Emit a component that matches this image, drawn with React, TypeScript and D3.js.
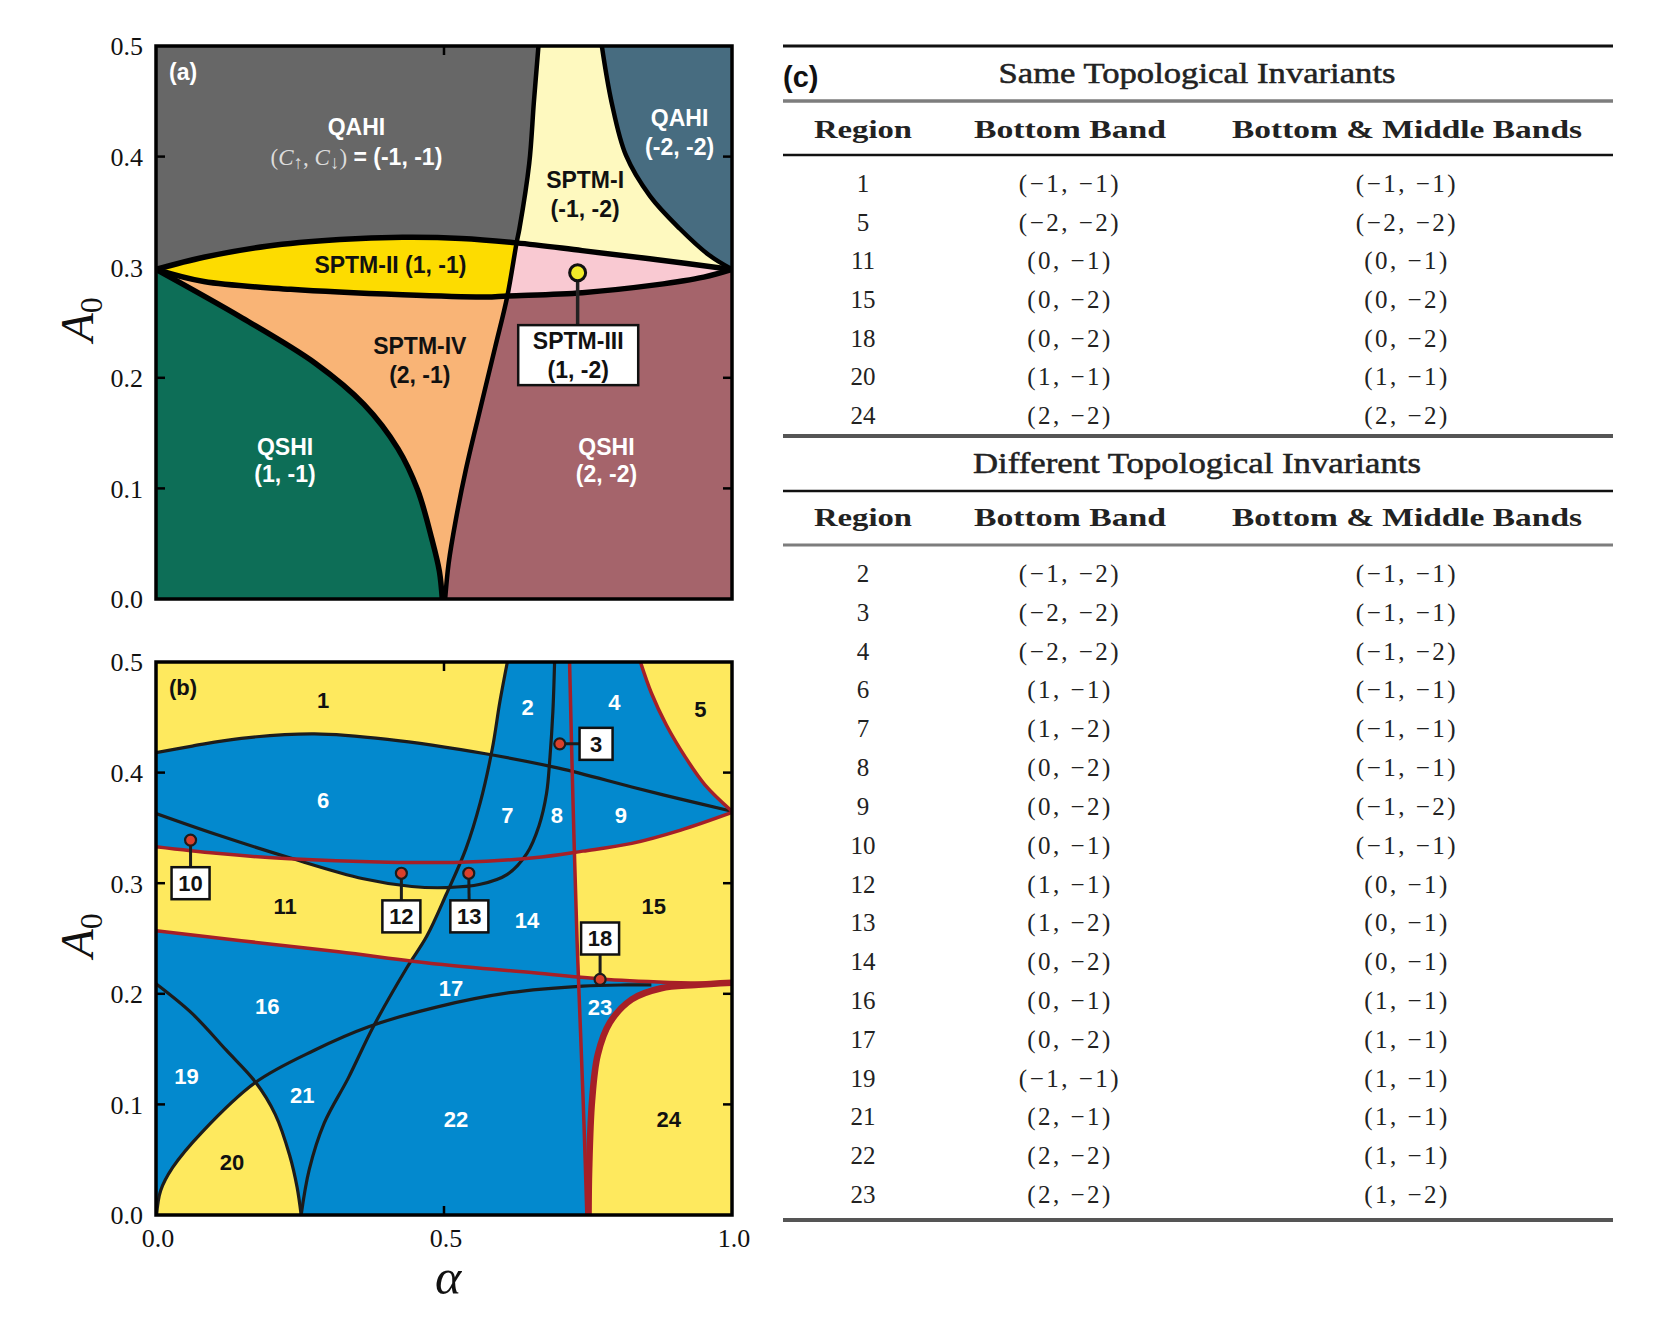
import * as d3 from 'd3';

type Pt = [number, number];

// ---------- panel (a): phase boundaries as [alpha, A0]
const lensUpper: Pt[] = [[0, 0.298], [0.083, 0.309], [0.192, 0.319], [0.319, 0.325], [0.428, 0.327], [0.53, 0.326], [0.626, 0.322], [0.74, 0.315], [0.867, 0.307], [1, 0.298]];
const lensLower: Pt[] = [[0, 0.298], [0.083, 0.287], [0.234, 0.28], [0.428, 0.275], [0.572, 0.273], [0.61, 0.274], [0.74, 0.277], [0.867, 0.284], [0.951, 0.291], [1, 0.298]];
const spineA: Pt[] = [[0.664, 0.5], [0.656, 0.449], [0.648, 0.394], [0.631, 0.335], [0.626, 0.322], [0.61, 0.274], [0.589, 0.228], [0.563, 0.172], [0.538, 0.117], [0.521, 0.073], [0.508, 0.032], [0.502, 0]];
const qshiEdge: Pt[] = [[0, 0.298], [0.15, 0.254], [0.277, 0.213], [0.361, 0.176], [0.42, 0.136], [0.454, 0.099], [0.479, 0.054], [0.492, 0.025], [0.497, 0]];
const qahiEdge: Pt[] = [[0.774, 0.5], [0.791, 0.449], [0.816, 0.401], [0.858, 0.364], [0.909, 0.335], [0.96, 0.311], [1, 0.298]];

// phase labels in (a): [alpha, A0, text, colour]
const labelsA: [number, number, string, string][] = [
  [0.348, 0.427, 'QAHI', '#fff'],
  [0.745, 0.379, 'SPTM-I', '#111'],
  [0.745, 0.353, '(-1, -2)', '#111'],
  [0.909, 0.435, 'QAHI', '#fff'],
  [0.909, 0.409, '(-2, -2)', '#fff'],
  [0.407, 0.302, 'SPTM-II (1, -1)', '#111'],
  [0.458, 0.229, 'SPTM-IV', '#111'],
  [0.458, 0.203, '(2, -1)', '#111'],
  [0.224, 0.138, 'QSHI', '#fff'],
  [0.224, 0.113, '(1, -1)', '#fff'],
  [0.782, 0.138, 'QSHI', '#fff'],
  [0.782, 0.113, '(2, -2)', '#fff'],
];
const chernLabelA: Pt = [0.348, 0.4];
const sptm3Dot: Pt = [0.732, 0.295];
const sptm3Box: Pt = [0.733, 0.2205];
const sptm3Lines: [number, string][] = [[0.2334, 'SPTM-III'], [0.2075, '(1, -2)']];

// ---------- panel (b): boundaries
const upperArc: Pt[] = [[0, 0.418], [0.063, 0.424], [0.148, 0.431], [0.275, 0.435], [0.402, 0.43], [0.572, 0.417], [0.699, 0.404], [0.826, 0.387], [0.911, 0.376], [1, 0.365]];
const uBend: Pt[] = [[0, 0.363], [0.105, 0.344], [0.232, 0.323], [0.36, 0.304], [0.444, 0.297], [0.504, 0.296], [0.563, 0.299], [0.61, 0.308], [0.644, 0.327], [0.665, 0.352], [0.678, 0.381], [0.684, 0.414], [0.689, 0.455], [0.692, 0.5]];
const riseCurve: Pt[] = [[0.252, 0], [0.266, 0.041], [0.292, 0.083], [0.334, 0.124], [0.377, 0.17], [0.436, 0.224], [0.47, 0.252], [0.504, 0.29], [0.538, 0.331], [0.563, 0.373], [0.584, 0.422], [0.597, 0.464], [0.61, 0.5]];
const cuspCurve: Pt[] = [[0, 0.209], [0.063, 0.182], [0.122, 0.149], [0.173, 0.12], [0.207, 0.091], [0.232, 0.054], [0.245, 0.025], [0.252, 0]];
const lowArc: Pt[] = [[0.001, 0], [0.008, 0.022], [0.029, 0.043], [0.08, 0.075], [0.173, 0.12], [0.275, 0.149], [0.368, 0.17], [0.487, 0.188], [0.614, 0.201], [0.741, 0.207], [0.818, 0.208], [0.86, 0.208]];
const redUpper: Pt[] = [[0, 0.333], [0.105, 0.327], [0.232, 0.322], [0.402, 0.319], [0.529, 0.319], [0.656, 0.323], [0.741, 0.329], [0.826, 0.336], [0.911, 0.348], [1, 0.364]];
const redSpine: Pt[] = [[0.718, 0.5], [0.724, 0.373], [0.731, 0.248], [0.737, 0.166], [0.743, 0.083], [0.748, 0]];
const redLower: Pt[] = [[0, 0.257], [0.148, 0.248], [0.317, 0.238], [0.487, 0.227], [0.656, 0.219], [0.784, 0.213], [0.911, 0.21], [1, 0.209]];
const redHook: Pt[] = [[0.751, 0], [0.752, 0.041], [0.757, 0.103], [0.767, 0.145], [0.788, 0.174], [0.826, 0.195], [0.877, 0.205], [0.936, 0.208], [1, 0.21]];
const redCorner: Pt[] = [[0.841, 0.5], [0.86, 0.472], [0.886, 0.443], [0.919, 0.414], [0.953, 0.389], [1, 0.365]];

// region numbers in (b): [alpha, A0, label, on yellow?]
const regionLabels: [number, number, string, boolean][] = [
  [0.29, 0.466, '1', true], [0.645, 0.459, '2', false], [0.796, 0.464, '4', false], [0.945, 0.457, '5', true],
  [0.29, 0.375, '6', false], [0.61, 0.362, '7', false], [0.696, 0.362, '8', false], [0.807, 0.362, '9', false],
  [0.224, 0.279, '11', true], [0.644, 0.267, '14', false], [0.864, 0.279, '15', true],
  [0.193, 0.189, '16', false], [0.512, 0.205, '17', false], [0.053, 0.126, '19', false],
  [0.254, 0.108, '21', false], [0.521, 0.087, '22', false], [0.771, 0.188, '23', false],
  [0.89, 0.087, '24', true], [0.132, 0.048, '20', true],
];
// boxed call-outs: [dot alpha, dot A0, box alpha, box A0, label]
const callouts: [number, number, number, number, string][] = [
  [0.701, 0.426, 0.764, 0.426, '3'],
  [0.06, 0.339, 0.06, 0.3, '10'],
  [0.426, 0.309, 0.426, 0.27, '12'],
  [0.543, 0.309, 0.544, 0.27, '13'],
  [0.771, 0.213, 0.771, 0.25, '18'],
];

// ---------- table (c)
const sameRegions = ['1', '5', '11', '15', '18', '20', '24'];
const sameBottom = ['(−1, −1)', '(−2, −2)', '(0, −1)', '(0, −2)', '(0, −2)', '(1, −1)', '(2, −2)'];
const sameBoth = ['(−1, −1)', '(−2, −2)', '(0, −1)', '(0, −2)', '(0, −2)', '(1, −1)', '(2, −2)'];
const diffRegions = ['2', '3', '4', '6', '7', '8', '9', '10', '12', '13', '14', '16', '17', '19', '21', '22', '23'];
const diffBottom = ['(−1, −2)', '(−2, −2)', '(−2, −2)', '(1, −1)', '(1, −2)', '(0, −2)', '(0, −2)', '(0, −1)', '(1, −1)', '(1, −2)', '(0, −2)', '(0, −1)', '(0, −2)', '(−1, −1)', '(2, −1)', '(2, −2)', '(2, −2)'];
const diffBoth = ['(−1, −1)', '(−1, −1)', '(−1, −2)', '(−1, −1)', '(−1, −1)', '(−1, −1)', '(−1, −2)', '(−1, −1)', '(0, −1)', '(0, −1)', '(0, −1)', '(1, −1)', '(1, −1)', '(1, −1)', '(1, −1)', '(1, −1)', '(1, −2)'];
const headers = ['Region', 'Bottom Band', 'Bottom & Middle Bands'];
const yTicks = [0, 0.1, 0.2, 0.3, 0.4, 0.5];
const xTicks = [0, 0.5, 1];

const W = 1661;
const H = 1338;
const SANS = "'Liberation Sans Narrow', 'Liberation Sans', Arial, sans-serif";
const SERIF = "'Liberation Serif', 'Times New Roman', serif";

const x = d3.scaleLinear().domain([0, 1]).range([156, 732]);
const yA = d3.scaleLinear().domain([0, 0.5]).range([599, 46]);
const yB = d3.scaleLinear().domain([0, 0.5]).range([1215, 662]);

function makePanel(y: d3.ScaleLinear<number, number>) {
  const line = d3.line<Pt>().x(d => x(d[0])).y(d => y(d[1])).curve(d3.curveCatmullRom.alpha(0.5));
  // closed outline built from curve pieces and single corner points
  const shape = (...pieces: Pt[][]) => {
    let d = '';
    for (const p of pieces) {
      if (p.length === 1) d += (d ? 'L' : 'M') + x(p[0][0]) + ',' + y(p[0][1]);
      else {
        const s = line(p)!;
        d += d ? 'L' + s.slice(1) : s;
      }
    }
    return d + 'Z';
  };
  return { y, line, shape };
}

const rev = (a: Pt[]) => [...a].reverse();

function Clip({ ids, children }: { ids: string[]; children: any }) {
  return ids.reduceRight((acc: any, id) => <g clipPath={`url(#${id})`}>{acc}</g>, children);
}

function Axes({ y, showX }: { y: d3.ScaleLinear<number, number>; showX: boolean }) {
  const [x0, x1] = x.range();
  const [y0, y1] = y.range();
  const fmt = d3.format('.1f');
  return (
    <g>
      <rect x={x0} y={y1} width={x1 - x0} height={y0 - y1} fill="none" stroke="#000" strokeWidth={3.5} />
      {yTicks.slice(1, -1).map(t => (
        <g key={t} stroke="#000" strokeWidth={2.5}>
          <line x1={x0} x2={x0 + 9} y1={y(t)} y2={y(t)} />
          <line x1={x1} x2={x1 - 9} y1={y(t)} y2={y(t)} />
        </g>
      ))}
      {xTicks.slice(1, -1).map(t => (
        <g key={t} stroke="#000" strokeWidth={2.5}>
          <line x1={x(t)} x2={x(t)} y1={y0} y2={y0 - 9} />
          <line x1={x(t)} x2={x(t)} y1={y1} y2={y1 + 9} />
        </g>
      ))}
      {yTicks.map(t => (
        <text key={t} x={x0 - 13} y={y(t)} dy="0.36em" textAnchor="end" fontFamily={SERIF} fontSize={26} fill="#111">
          {fmt(t)}
        </text>
      ))}
      {showX && xTicks.map(t => (
        <text key={t} x={x(t) + 2} y={y0 + 32} textAnchor="middle" fontFamily={SERIF} fontSize={26} fill="#111">
          {fmt(t)}
        </text>
      ))}
      <text transform={`translate(93,${(y0 + y1) / 2 - 3}) rotate(-90)`} textAnchor="middle" fontFamily={SERIF} fill="#111">
        <tspan fontSize={47} fontStyle="italic">A</tspan>
        <tspan fontSize={32} dy={9}>0</tspan>
      </text>
    </g>
  );
}

export default function App() {
  const a = makePanel(yA);
  const b = makePanel(yB);
  const [x0, x1] = x.range();

  // clip outlines for (a)
  const clipsA: [string, string][] = [
    ['a-frame', a.shape([[0, 0]], [[1, 0]], [[1, 0.5]], [[0, 0.5]])],
    ['a-leftV', a.shape(spineA, [[0, 0]], [[0, 0.5]])],
    ['a-rightV', a.shape(spineA, [[1, 0]], [[1, 0.5]])],
    ['a-leftR', a.shape(qahiEdge, [[1, 0]], [[0, 0]], [[0, 0.5]])],
    ['a-belowLL', a.shape(lensLower, [[1, 0]], [[0, 0]])],
  ];
  const aboveLU = a.shape(lensUpper, [[1, 0.5]], [[0, 0.5]]);
  const rightR = a.shape(qahiEdge, [[1, 0.5]]);
  const rightG = a.shape(qshiEdge, [[1, 0]], [[1, 0.5]], [[0, 0.5]]);
  const leftG = a.shape(qshiEdge, [[0, 0]]);
  const lens = a.shape(lensUpper, rev(lensLower));

  // clip outlines for (b)
  const clipsB: [string, string][] = [
    ['b-frame', b.shape([[0, 0]], [[1, 0]], [[1, 0.5]], [[0, 0.5]])],
    ['b-leftRise', b.shape(riseCurve, [[0, 0.5]], [[0, 0]])],
    ['b-belowR1', b.shape(redUpper, [[1, 0]], [[0, 0]])],
    ['b-rightR2', b.shape(redSpine, [[1, 0]], [[1, 0.5]])],
    ['b-leftCusp', b.shape(cuspCurve, [[0, 0]])],
  ];
  const aboveArc = b.shape(upperArc, [[1, 0.5]], [[0, 0.5]]);
  const aboveR3 = b.shape(redLower, [[1, 0.5]], [[0, 0.5]]);
  const insideU = b.shape(uBend, [[0, 0.5]]);
  const belowLow = b.shape(lowArc, [[0.86, 0]]);
  const corner5 = b.shape(redCorner, [[1, 0.5]]);
  const corner24 = b.shape(redHook, [[1, 0]]);

  const YEL = '#FEE95E';
  const BLUE = '#0389CE';
  const RED = '#A61F27';

  const rowsSame = d3.scalePoint<string>().domain(sameRegions).range([183, 415]);
  const rowsDiff = d3.scalePoint<string>().domain(diffRegions).range([573, 1194]);
  const colX = [863, 1070, 1407];
  const headW = [98, 192, 350];
  const tl = 783;
  const tr = 1613;

  const cells = (rows: d3.ScalePoint<string>, ids: string[], c1: string[], c2: string[]) =>
    ids.map((id, i) => (
      <g key={id} fontFamily={SERIF} fontSize={25} fill="#222" textAnchor="middle">
        <text x={colX[0]} y={rows(id)} dy="0.36em">{id}</text>
        <text x={colX[1]} y={rows(id)} dy="0.36em" letterSpacing={2.5}>{c1[i]}</text>
        <text x={colX[2]} y={rows(id)} dy="0.36em" letterSpacing={2.5}>{c2[i]}</text>
      </g>
    ));
  const headerRow = (yb: number) => (
    <g fontFamily={SERIF} fontSize={25} fontWeight="bold" fill="#222" textAnchor="middle">
      {headers.map((h, i) => (
        <text key={h} x={colX[i]} y={yb} textLength={headW[i]} lengthAdjust="spacingAndGlyphs">{h}</text>
      ))}
    </g>
  );
  const cm = { fontFamily: SERIF, fontWeight: 'normal', fill: '#dcdcdc' } as const;

  return (
    <svg width={W} height={H} style={{ position: 'absolute', left: 0, top: 0, background: '#fff' }}>
      <defs>
        {[...clipsA, ...clipsB].map(([id, d]) => (
          <clipPath key={id} id={id}><path d={d} /></clipPath>
        ))}
      </defs>

      {/* ---------------- panel (a) ---------------- */}
      <Clip ids={['a-frame']}>
        <g>
          <rect x={x0} y={yA(0.5)} width={x1 - x0} height={yA(0) - yA(0.5)} fill="#A5646B" />
          <Clip ids={['a-leftV']}><path d={aboveLU} fill="#676767" /></Clip>
          <Clip ids={['a-rightV', 'a-leftR']}><path d={aboveLU} fill="#FEF9BF" /></Clip>
          <path d={rightR} fill="#476C80" />
          <Clip ids={['a-belowLL', 'a-leftV']}><path d={rightG} fill="#F9B476" /></Clip>
          <path d={leftG} fill="#0D6E57" />
          <path d={lens} fill="#F9C9D2" />
          <Clip ids={['a-leftV']}><path d={lens} fill="#FDDC00" /></Clip>
          <g fill="none" stroke="#000" strokeLinecap="round">
            {[lensUpper, lensLower, qshiEdge].map((c, i) => <path key={i} d={a.line(c)!} strokeWidth={5.5} />)}
            {[spineA, qahiEdge].map((c, i) => <path key={i} d={a.line(c)!} strokeWidth={4.5} />)}
          </g>
        </g>
      </Clip>
      <g fontFamily={SANS} fontWeight="bold" fontSize={23} textAnchor="middle">
        {labelsA.map(([al, v, t, c], i) => (
          <text key={i} x={x(al)} y={yA(v)} dy="0.36em" fill={c}>{t}</text>
        ))}
        <text x={x(chernLabelA[0])} y={yA(chernLabelA[1])} dy="0.36em" fill="#fff">
          <tspan {...cm}>(</tspan>
          <tspan {...cm} fontStyle="italic">C</tspan>
          <tspan {...cm} fontSize={19} dy={4}>↑</tspan>
          <tspan {...cm} dy={-4}>, </tspan>
          <tspan {...cm} fontStyle="italic">C</tspan>
          <tspan {...cm} fontSize={19} dy={4}>↓</tspan>
          <tspan {...cm} dy={-4}>)</tspan>
          <tspan> = (-1, -1)</tspan>
        </text>
        <text x={x0 + 13} y={yA(0.477)} dy="0.36em" textAnchor="start" fill="#fff">(a)</text>
      </g>
      <line x1={x(sptm3Dot[0])} x2={x(sptm3Dot[0])} y1={yA(sptm3Dot[1])} y2={yA(sptm3Box[1])} stroke="#222" strokeWidth={3.5} />
      <circle cx={x(sptm3Dot[0])} cy={yA(sptm3Dot[1])} r={8} fill="#F2EC2A" stroke="#111" strokeWidth={3} />
      <rect x={x(sptm3Box[0]) - 60} y={yA(sptm3Box[1]) - 30} width={120} height={60} fill="#fff" stroke="#111" strokeWidth={2.5} />
      <g fontFamily={SANS} fontWeight="bold" fontSize={23} textAnchor="middle" fill="#111">
        {sptm3Lines.map(([v, t]) => (
          <text key={t} x={x(sptm3Box[0])} y={yA(v)} dy="0.36em">{t}</text>
        ))}
      </g>
      <Axes y={yA} showX={false} />

      {/* ---------------- panel (b) ---------------- */}
      <Clip ids={['b-frame']}>
        <g>
          <rect x={x0} y={yB(0.5)} width={x1 - x0} height={yB(0) - yB(0.5)} fill={BLUE} />
          <Clip ids={['b-leftRise']}><path d={aboveArc} fill={YEL} /></Clip>
          <path d={corner5} fill={YEL} />
          <Clip ids={['b-belowR1', 'b-leftRise']}><path d={aboveR3} fill={YEL} /></Clip>
          <Clip ids={['b-belowR1']}><path d={insideU} fill={BLUE} /></Clip>
          <Clip ids={['b-belowR1', 'b-rightR2']}><path d={aboveR3} fill={YEL} /></Clip>
          <Clip ids={['b-leftCusp']}><path d={belowLow} fill={YEL} /></Clip>
          <path d={corner24} fill={YEL} />
          <g fill="none" stroke="#1c1c1c" strokeWidth={3.2}>
            {[upperArc, uBend, riseCurve, cuspCurve, lowArc].map((c, i) => <path key={i} d={b.line(c)!} />)}
          </g>
          <g fill="none" stroke={RED} strokeWidth={3.5}>
            {[redUpper, redSpine, redLower, redCorner].map((c, i) => <path key={i} d={b.line(c)!} />)}
            <path d={b.line(redHook)!} strokeWidth={6.5} />
          </g>
        </g>
      </Clip>
      <g fontFamily={SANS} fontWeight="bold" fontSize={22} textAnchor="middle">
        {regionLabels.map(([al, v, t, onYellow]) => (
          <text key={t} x={x(al)} y={yB(v)} dy="0.36em" fill={onYellow ? '#111' : '#fff'}>{t}</text>
        ))}
        <text x={x0 + 13} y={yB(0.477)} dy="0.36em" textAnchor="start" fill="#111">(b)</text>
      </g>
      {callouts.map(([da, dv, ba, bv, t]) => {
        const w = t.length > 1 ? 38 : 33;
        return (
          <g key={t}>
            <line x1={x(da)} y1={yB(dv)} x2={x(ba)} y2={yB(bv)} stroke="#1c1c1c" strokeWidth={3} />
            <circle cx={x(da)} cy={yB(dv)} r={5.5} fill="#D8402C" stroke="#1c1c1c" strokeWidth={2.2} />
            <rect x={x(ba) - w / 2} y={yB(bv) - 16} width={w} height={32} fill="#fff" stroke="#111" strokeWidth={2.5} />
            <text x={x(ba)} y={yB(bv)} dy="0.36em" textAnchor="middle" fontFamily={SANS} fontWeight="bold" fontSize={22} fill="#111">{t}</text>
          </g>
        );
      })}
      <Axes y={yB} showX={true} />
      <text x={x(0.5) + 4} y={1294} textAnchor="middle" fontFamily={SERIF} fontStyle="italic" fontSize={50} fill="#111">α</text>

      {/* ---------------- table (c) ---------------- */}
      <g>
        <line x1={tl} x2={tr} y1={46} y2={46} stroke="#111" strokeWidth={3} />
        <line x1={tl} x2={tr} y1={101} y2={101} stroke="#7d7d7d" strokeWidth={3.5} />
        <line x1={tl} x2={tr} y1={155} y2={155} stroke="#111" strokeWidth={2.5} />
        <line x1={tl} x2={tr} y1={436} y2={436} stroke="#555" strokeWidth={4} />
        <line x1={tl} x2={tr} y1={491} y2={491} stroke="#111" strokeWidth={2.5} />
        <line x1={tl} x2={tr} y1={545} y2={545} stroke="#7d7d7d" strokeWidth={3} />
        <line x1={tl} x2={tr} y1={1220} y2={1220} stroke="#555" strokeWidth={4} />
        <text x={tl} y={87} fontFamily="'Liberation Sans', Arial, sans-serif" fontWeight="bold" fontSize={29} fill="#111">(c)</text>
        <text x={1197} y={83} textAnchor="middle" fontFamily={SERIF} fontSize={29} fill="#222" stroke="#222" strokeWidth={0.5} textLength={397} lengthAdjust="spacingAndGlyphs">Same Topological Invariants</text>
        {headerRow(138)}
        {cells(rowsSame, sameRegions, sameBottom, sameBoth)}
        <text x={1197} y={473} textAnchor="middle" fontFamily={SERIF} fontSize={29} fill="#222" stroke="#222" strokeWidth={0.5} textLength={448} lengthAdjust="spacingAndGlyphs">Different Topological Invariants</text>
        {headerRow(526)}
        {cells(rowsDiff, diffRegions, diffBottom, diffBoth)}
      </g>
    </svg>
  );
}
